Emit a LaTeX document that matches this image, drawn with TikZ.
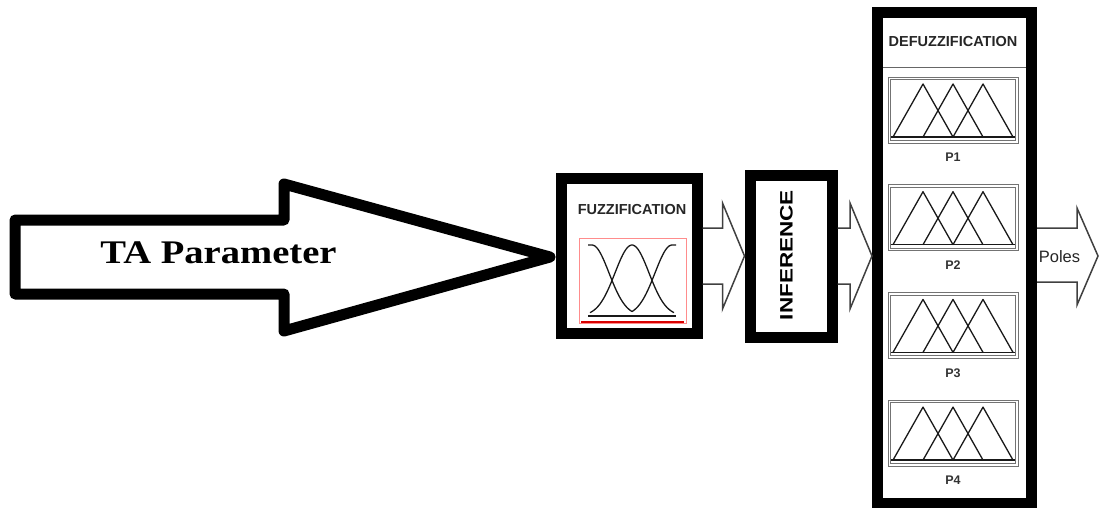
\documentclass[tikz,border=0pt]{standalone}
\usepackage{fontspec}
\setmainfont{Liberation Serif}
\newfontfamily\arialfont{Liberation Sans}
\usetikzlibrary{calc}
\tikzset{
  thickbox/.style={draw=black, line width=11pt, inner sep=0pt},
  bigarrow/.style={draw=black, line width=11pt, line join=round},
  hollow/.style={draw=black!75, line width=1.5pt, line join=miter},
  tatext/.style={font=\bfseries\fontsize{33}{36}\selectfont, inner sep=0pt, anchor=base},
  headtext/.style={font=\arialfont\bfseries\fontsize{14.5}{16}\selectfont, text=black!85, inner sep=0pt},
  inftext/.style={font=\arialfont\bfseries\fontsize{18}{20}\selectfont, inner sep=0pt, rotate=90},
  plabel/.style={font=\arialfont\bfseries\fontsize{12.5}{14}\selectfont, text=black!80, inner sep=0pt},
  polestext/.style={font=\arialfont\fontsize{16.5}{18}\selectfont, text=black!85, inner sep=0pt, anchor=base},
  mfbox/.style={draw=black!55, line width=0.8pt, minimum width=130pt, minimum height=66pt, inner sep=0pt},
  mfinner/.style={draw=black!55, line width=0.8pt},
  mfline/.style={draw=black!90, line width=1.3pt, line join=round},
  fzbox/.style={draw=red!45, line width=0.8pt, minimum width=107pt, minimum height=85pt, inner sep=0pt}
}
\begin{document}
\begin{tikzpicture}[x=1pt,y=-1pt]
\useasboundingbox (0,0) rectangle (1099,508);

% main blocks
\node[thickbox, minimum width=136pt, minimum height=155pt] (fuzz) at (629,255.5) {};
\node[thickbox, minimum width=82pt, minimum height=162pt] (inf) at (791,256) {};
\node[thickbox, minimum width=154pt, minimum height=490pt] (defuzz) at (954.5,258) {};

% input arrow
\coordinate (tatip) at ($(fuzz.west)+(-5.5,1.5)$);
\draw[bigarrow] (15,220) -- (284,220) -- (284,184) -- (tatip) -- (284,331) -- (284,294) -- (15,294) -- cycle;
\node[tatext] (talabel) at (218.5,263) {\scalebox{1.17}[1]{TA Parameter}};

% fuzzification block contents
\node[headtext] (fuzztitle) at (632,210) {FUZZIFICATION};
\node[fzbox] (fzplot) at (632.5,280.5) {};
\draw[red!85!black, line width=1.6pt] (581,322) -- (684,322);
\draw[mfline] (588,316) -- (676,316);
\draw[mfline] plot[domain=590:674, samples=50, smooth] (\x, {316-71*exp(-0.5*((\x-632)/17)^2)});
\draw[mfline] (588,245) -- (592,245) plot[domain=592:632, samples=30, smooth] (\x, {316-71*exp(-0.5*((\x-592)/17)^2)});
\draw[mfline] plot[domain=632:672, samples=30, smooth] (\x, {316-71*exp(-0.5*((\x-672)/17)^2)}) -- (676,245);

% inference label
\node[inftext] (inflabel) at (786.5,255) {\scalebox{1.25}[1]{INFERENCE}};

% hollow arrows between blocks
\draw[hollow] ($(fuzz.east)+(0,-27.5)$) -| ($(inf.west)+(-22,-53)$) -- (inf.west)
   -- ($(inf.west)+(-22,53)$) |- ($(fuzz.east)+(0,28.5)$);
\coordinate (deftip) at ($(defuzz.west)+(0,-2)$);
\draw[hollow] ($(inf.east)+(0,-28)$) -| ($(deftip)+(-22,-53)$) -- (deftip)
   -- ($(deftip)+(-22,53)$) |- ($(inf.east)+(0,28)$);
\coordinate (polestip) at (1098,256);
\draw[hollow] ($(defuzz.east)+(0,-30)$) -| ($(polestip)+(-21,-48)$) -- (polestip)
   -- ($(polestip)+(-21,49)$) |- ($(defuzz.east)+(0,24)$);
\node[polestext] (poles) at (1059.5,262) {Poles};

% defuzzification block contents
\node[headtext] (deftitle) at (953,42) {DEFUZZIFICATION};
\draw[black!60, line width=1pt] (883,68) -- (1026,68);
\foreach \i/\lab in {0/P1,1/P2,2/P3,3/P4}{
  \begin{scope}[shift={(0,107.7*\i)}]
    \node[mfbox] (mf\i) at (953,110) {};
    \draw[mfinner] ($(mf\i.north west)+(3,3)$) rectangle ($(mf\i.south east)+(-3,-3)$);
    \draw[mfline] (891,137) -- (1015,137);
    \draw[mfline] (893,137) -- (923,84) -- (953,137);
    \draw[mfline] (923,137) -- (953,84) -- (983,137);
    \draw[mfline] (953,137) -- (983,84) -- (1013,137);
    \node[plabel] (pl\i) at (953,157.5) {\lab};
  \end{scope}
}
\end{tikzpicture}
\end{document}
